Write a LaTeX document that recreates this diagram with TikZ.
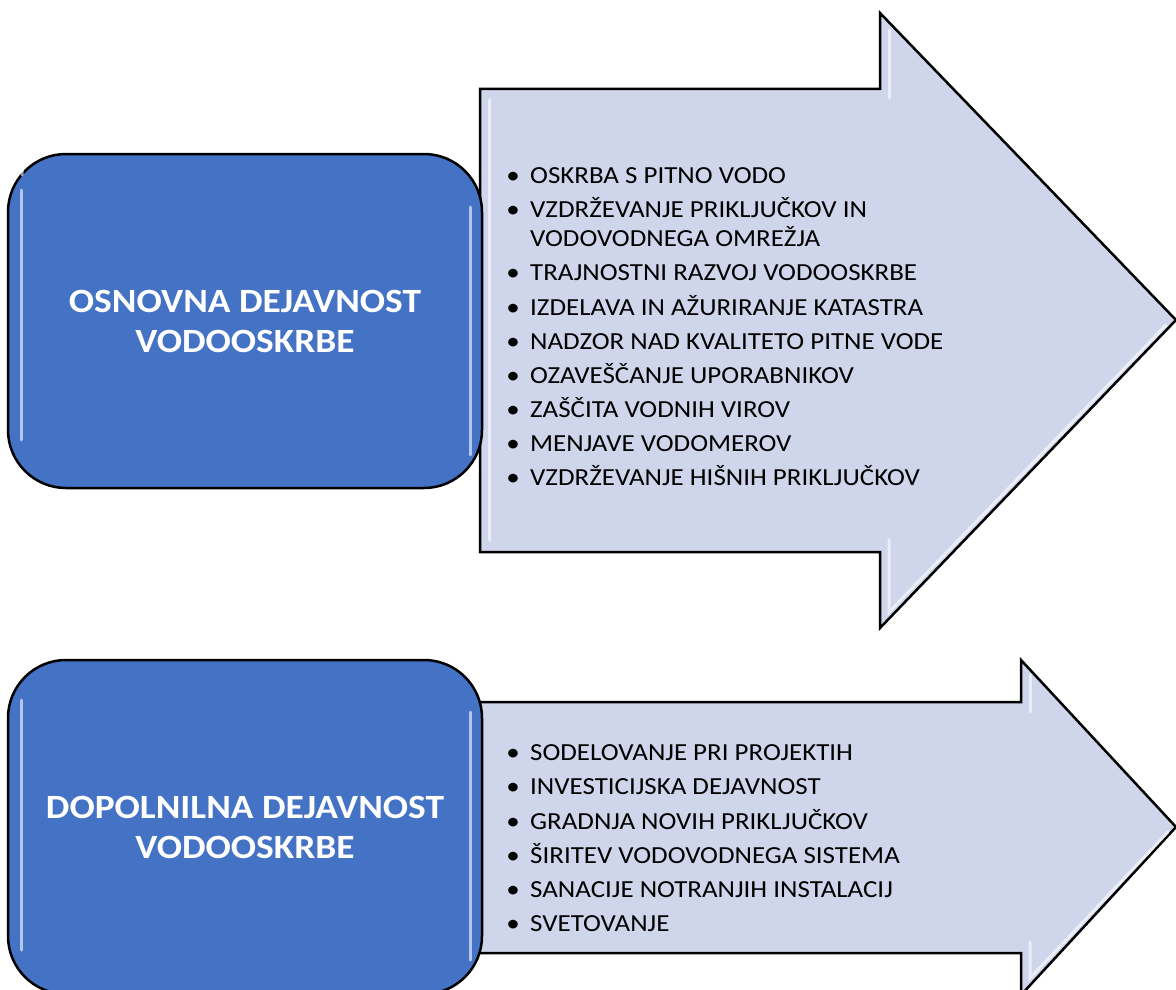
\documentclass[tikz,border=0pt]{standalone}
\usepackage{fontspec}
\setmainfont{Carlito}[FakeStretch=1.1]
\definecolor{boxblue}{HTML}{4472C4}
\definecolor{arrowfill}{HTML}{CFD5EA}
\tikzset{
  bluebox/.style={draw=black, line width=2.5pt, fill=boxblue, rounded corners=58pt,
    minimum width=474pt, minimum height=334pt, text=white, align=center,
    font=\fontsize{34}{40}\selectfont\bfseries, inner sep=0pt},
  arrowshape/.style={draw=black, line width=2.5pt, fill=arrowfill, line join=miter},
  itemtext/.style={anchor=base west, inner sep=0pt, font=\fontsize{24.5}{29}\selectfont, align=left},
  bulletdot/.style={anchor=base, inner sep=0pt, font=\fontsize{24.5}{29}\selectfont},
  hl/.style={draw=white, opacity=0.6, line width=3pt, line cap=round},
}
\begin{document}
\begin{tikzpicture}[x=1pt,y=-1pt]
\useasboundingbox (0,0) rectangle (1176,990);
\clip (0,0) rectangle (1176,990);
\fill[white] (0,0) rectangle (1176,990);

% top arrow
\draw[arrowshape] (480,89) -- (880,89) -- (880,13) -- (1176,320) -- (880,628) -- (880,552) -- (480,552) -- cycle;
\draw[hl] (489,100) -- (489,540);
\draw[hl] (889,30) -- (889,98);
\draw[hl] (889,540) -- (889,612) -- (1166,325);
% bottom arrow
\draw[arrowshape] (470,702) -- (1021,702) -- (1021,660) -- (1176,827) -- (1021,995) -- (1021,953) -- (470,953) -- cycle;
\draw[hl] (1030,675) -- (1030,712);
\draw[hl] (1030,942) -- (1030,978) -- (1168,832);

% boxes
\node[bluebox] (top) at (245,321) {OSNOVNA DEJAVNOST\\VODOOSKRBE};
\draw[hl] (21,190) -- (21,440);
\draw[hl] (470,207) -- (470,455);
\draw[hl] (22,175) arc[start angle=180, end angle=240, radius=40];
\node[bluebox] (bottom) at (245,827) {DOPOLNILNA DEJAVNOST\\VODOOSKRBE};
\draw[hl] (21,700) -- (21,950);
\draw[hl] (470,712) -- (470,960);

% top list
\foreach \y/\t [count=\i] in {
  183/{OSKRBA S PITNO VODO},
  217/{VZDRŽEVANJE PRIKLJUČKOV IN},
  280/{TRAJNOSTNI RAZVOJ VODOOSKRBE},
  315/{IZDELAVA IN AŽURIRANJE KATASTRA},
  349/{NADZOR NAD KVALITETO PITNE VODE},
  383/{OZAVEŠČANJE UPORABNIKOV},
  417/{ZAŠČITA VODNIH VIROV},
  451/{MENJAVE VODOMEROV},
  485/{VZDRŽEVANJE HIŠNIH PRIKLJUČKOV}}{
  \node[bulletdot] (tb\i) at (513,\y) {•};
  \node[itemtext] (ti\i) at (530,\y) {\t};
}
\node[itemtext] (ti2b) at (530,246) {VODOVODNEGA OMREŽJA};

% bottom list
\foreach \y/\t [count=\i] in {
  760/{SODELOVANJE PRI PROJEKTIH},
  794/{INVESTICIJSKA DEJAVNOST},
  829/{GRADNJA NOVIH PRIKLJUČKOV},
  863/{ŠIRITEV VODOVODNEGA SISTEMA},
  897/{SANACIJE NOTRANJIH INSTALACIJ},
  931/{SVETOVANJE}}{
  \node[bulletdot] (bb\i) at (513,\y) {•};
  \node[itemtext] (bi\i) at (530,\y) {\t};
}
\end{tikzpicture}
\end{document}
